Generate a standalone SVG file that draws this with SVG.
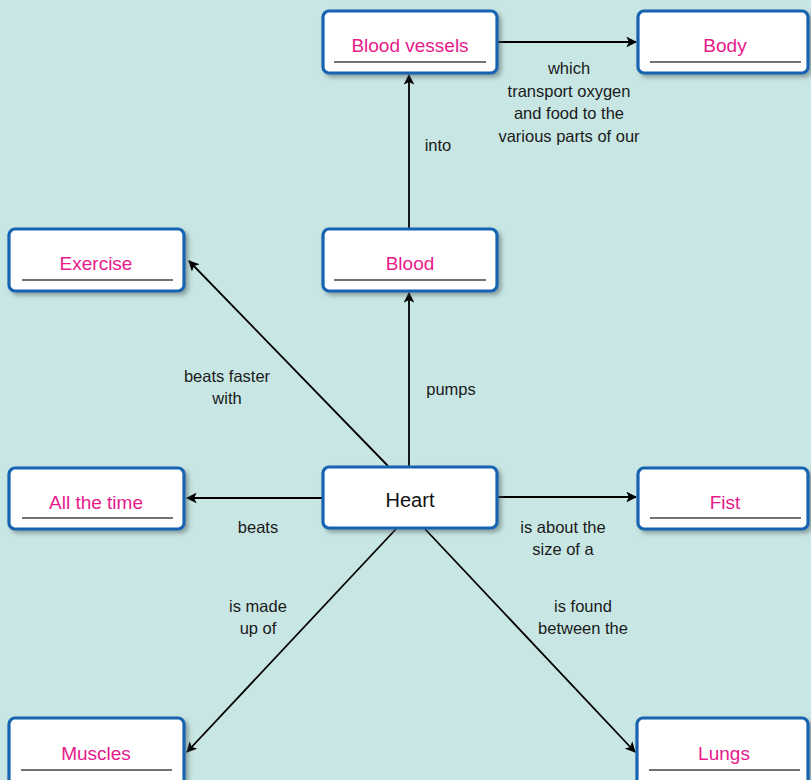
<svg xmlns="http://www.w3.org/2000/svg" width="811" height="780" viewBox="0 0 811 780">
  <style>
    .box { fill: #ffffff; stroke: #1763b2; stroke-width: 3.2; }
    .uline { stroke: #444444; stroke-width: 1.6; }
    .term { font-family: "Liberation Sans", Arial, sans-serif; font-size: 19px; fill: #e8198b; text-anchor: middle; }
    .center { font-family: "Liberation Sans", Arial, sans-serif; font-size: 20px; fill: #111111; text-anchor: middle; }
    .lbl { font-family: "Liberation Sans", Arial, sans-serif; font-size: 16.5px; fill: #1a1a1a; text-anchor: middle; }
    .edge { stroke: #000000; stroke-width: 1.8; fill: none; marker-end: url(#arrow); }
  </style>
  <defs>
    <marker id="arrow" viewBox="0 0 10 10" refX="9" refY="5" markerWidth="6" markerHeight="6" orient="auto" markerUnits="strokeWidth">
      <path d="M0,0 L10,5 L0,10 L2.5,5 Z" fill="#000000"/>
    </marker>
    <filter id="shadow" x="-10%" y="-20%" width="130%" height="150%">
      <feDropShadow dx="3" dy="3" stdDeviation="2.2" flood-color="#4a5a5a" flood-opacity="0.5"/>
    </filter>
  </defs>

  <rect x="0" y="0" width="811" height="780" fill="#c8e7e4"/>

  <!-- connectors -->
  <g id="connectors">
    <line class="edge" x1="497" y1="42" x2="636" y2="42"/>
    <line class="edge" x1="409" y1="229" x2="409" y2="75"/>
    <line class="edge" x1="409" y1="467" x2="409" y2="293"/>
    <line class="edge" x1="388" y1="466" x2="189" y2="261"/>
    <line class="edge" x1="323" y1="498" x2="187" y2="498"/>
    <line class="edge" x1="497" y1="497" x2="636" y2="497"/>
    <line class="edge" x1="396" y1="529" x2="187" y2="752"/>
    <line class="edge" x1="425" y1="529" x2="635" y2="752"/>
  </g>

  <!-- connector labels -->
  <g id="labels">
    <text class="lbl" x="569" y="74">which</text>
    <text class="lbl" x="569" y="97">transport oxygen</text>
    <text class="lbl" x="569" y="119">and food to the</text>
    <text class="lbl" x="569" y="142">various parts of our</text>
    <text class="lbl" x="438" y="151">into</text>
    <text class="lbl" x="227" y="382">beats faster</text>
    <text class="lbl" x="227" y="404">with</text>
    <text class="lbl" x="451" y="395">pumps</text>
    <text class="lbl" x="258" y="533">beats</text>
    <text class="lbl" x="563" y="533">is about the</text>
    <text class="lbl" x="563" y="555">size of a</text>
    <text class="lbl" x="258" y="612">is made</text>
    <text class="lbl" x="258" y="634">up of</text>
    <text class="lbl" x="583" y="612">is found</text>
    <text class="lbl" x="583" y="634">between the</text>
  </g>

  <!-- nodes -->
  <g id="node-blood-vessels">
    <rect class="box" x="323" y="11" width="174" height="62" rx="6" filter="url(#shadow)"/>
    <text class="term" x="410" y="52">Blood vessels</text>
    <line class="uline" x1="334" y1="62" x2="486" y2="62"/>
  </g>
  <g id="node-body">
    <rect class="box" x="638" y="11" width="170" height="62" rx="6" filter="url(#shadow)"/>
    <text class="term" x="725" y="52">Body</text>
    <line class="uline" x1="650" y1="62" x2="801" y2="62"/>
  </g>
  <g id="node-exercise">
    <rect class="box" x="9" y="229" width="175" height="62" rx="6" filter="url(#shadow)"/>
    <text class="term" x="96" y="270">Exercise</text>
    <line class="uline" x1="22" y1="280" x2="173" y2="280"/>
  </g>
  <g id="node-blood">
    <rect class="box" x="323" y="229" width="174" height="62" rx="6" filter="url(#shadow)"/>
    <text class="term" x="410" y="270">Blood</text>
    <line class="uline" x1="334" y1="280" x2="486" y2="280"/>
  </g>
  <g id="node-all-the-time">
    <rect class="box" x="9" y="468" width="175" height="61" rx="6" filter="url(#shadow)"/>
    <text class="term" x="96" y="509">All the time</text>
    <line class="uline" x1="22" y1="518" x2="173" y2="518"/>
  </g>
  <g id="node-heart">
    <rect class="box" x="323" y="467" width="174" height="61" rx="6" filter="url(#shadow)"/>
    <text class="center" x="410" y="507">Heart</text>
  </g>
  <g id="node-fist">
    <rect class="box" x="638" y="468" width="170" height="61" rx="6" filter="url(#shadow)"/>
    <text class="term" x="725" y="509">Fist</text>
    <line class="uline" x1="650" y1="518" x2="801" y2="518"/>
  </g>
  <g id="node-muscles">
    <rect class="box" x="9" y="718" width="175" height="70" rx="6" filter="url(#shadow)"/>
    <text class="term" x="96" y="760">Muscles</text>
    <line class="uline" x1="21" y1="770" x2="172" y2="770"/>
  </g>
  <g id="node-lungs">
    <rect class="box" x="637" y="718" width="171" height="70" rx="6" filter="url(#shadow)"/>
    <text class="term" x="724" y="760">Lungs</text>
    <line class="uline" x1="649" y1="770" x2="800" y2="770"/>
  </g>
</svg>
